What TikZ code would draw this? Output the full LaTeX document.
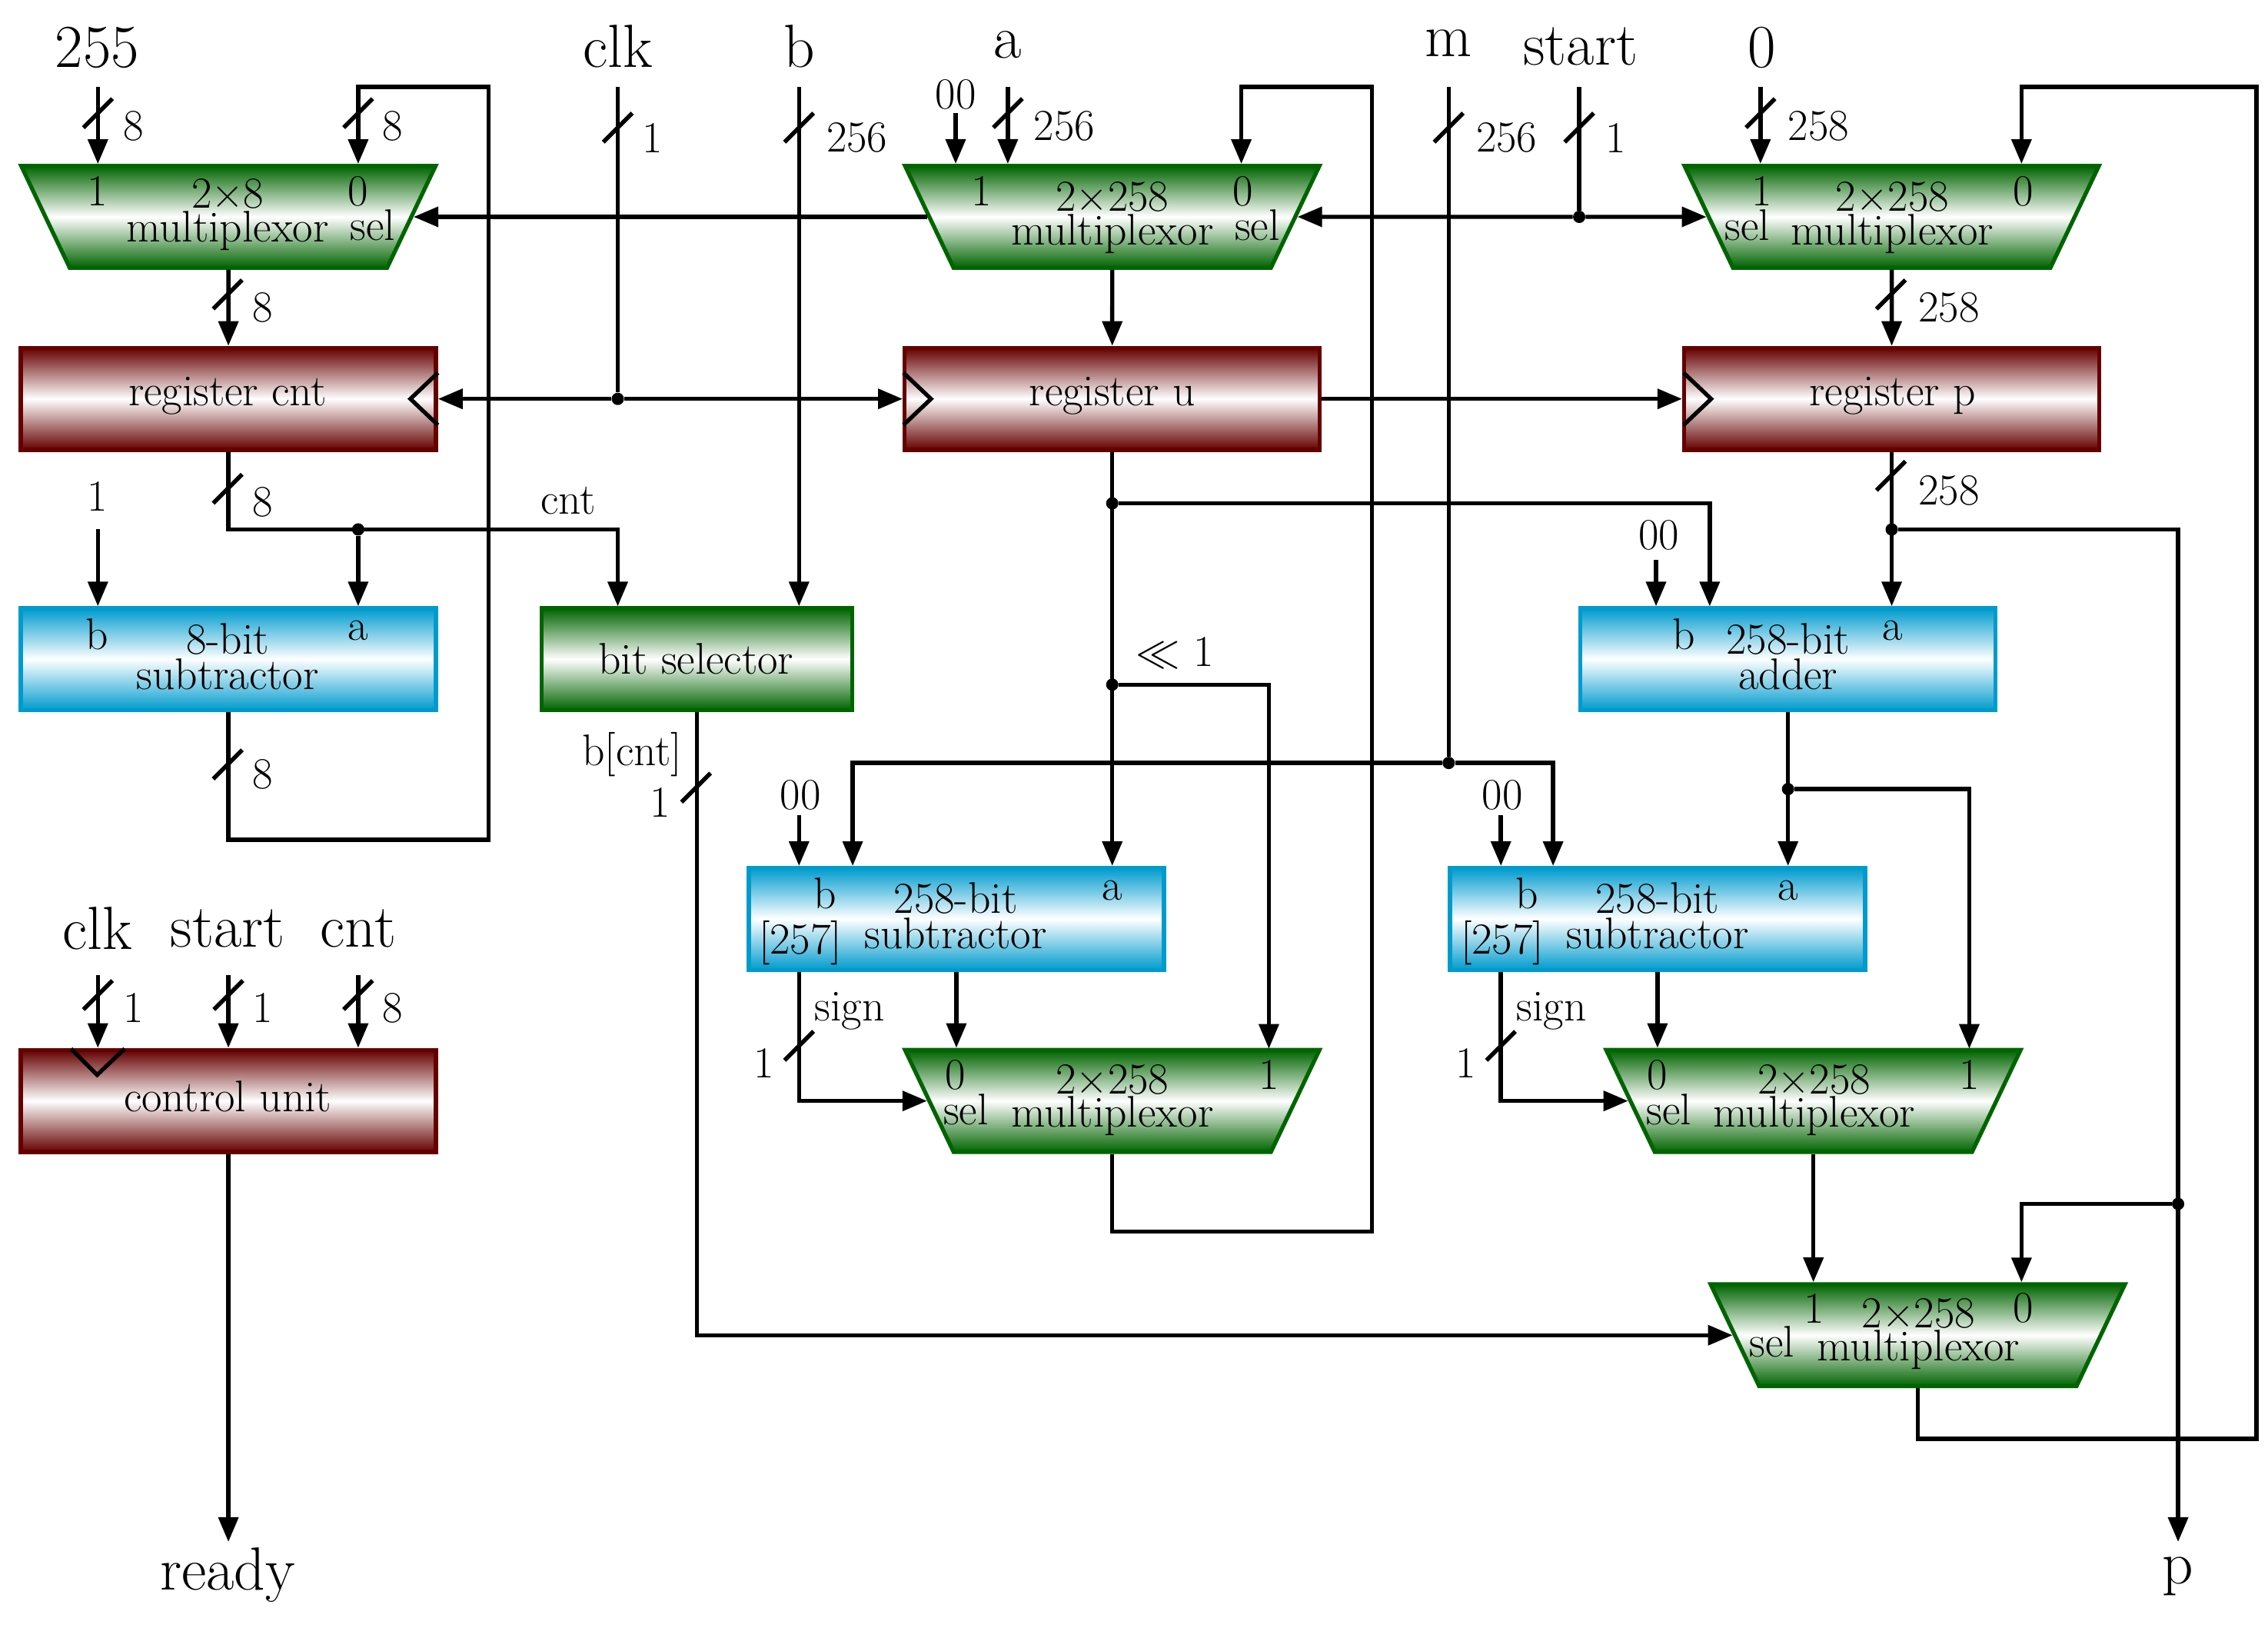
\documentclass[tikz,border=0pt]{standalone}
\usepackage{fix-cm}
\usetikzlibrary{arrows.meta,shapes.geometric}
\definecolor{gr}{RGB}{0,100,0}
\definecolor{rd}{RGB}{100,0,0}
\definecolor{bl}{RGB}{0,155,205}
\tikzset{
 base/.style={line width=2.8pt,minimum width=286.3pt,minimum height=70.3pt,inner sep=0pt},
 muxbox/.style={base,trapezium,trapezium stretches=true,trapezium left angle=63,trapezium right angle=63,shape border rotate=180,draw=gr,top color=gr,bottom color=gr,middle color=white},
 regbox/.style={base,rectangle,draw=rd,top color=rd,bottom color=rd,middle color=white},
 alubox/.style={base,rectangle,draw=bl,top color=bl,bottom color=bl,middle color=white},
 selbox/.style={base,rectangle,minimum width=214pt,draw=gr,top color=gr,bottom color=gr,middle color=white},
 txt/.style={inner sep=0pt,align=center,font=\fontsize{30.5}{24.5}\selectfont},
 muxtxt/.style={inner sep=0pt,align=center,font=\fontsize{30.5}{23}\selectfont},
 big/.style={inner sep=0pt,font=\fontsize{42}{44}\selectfont},
 wire/.style={line width=2.9pt,draw=black},
 arr/.style={wire,-{Triangle[length=17pt,width=13.5pt]}},
 dot/.style={circle,fill=black,inner sep=0pt,minimum size=8.5pt},
 clk/.style={line width=2.8pt,draw=black},
}
\newcommand{\busmark}[2]{\draw[wire] (#1-10,#2+10) -- (#1+10,#2-10);}
\newcommand{\nil}{\phantom{\rule{100pt}{30pt}}}
\begin{document}
\begin{tikzpicture}[x=1pt,y=-1pt]
\useasboundingbox (0,0) rectangle (1564,1122.3);
% boxes
\node[muxbox] (m1) at (157.5,149.5) {\nil};
\node[muxbox] (m2) at (767,149.5) {\nil};
\node[muxbox] (m3) at (1304.5,149.5) {\nil};
\node[regbox] (r1) at (157.5,275) {};
\node[regbox] (r2) at (767,275) {};
\node[regbox] (r3) at (1304.5,275) {};
\node[alubox] (s8) at (157.5,454.5) {};
\node[selbox] (bs) at (480.5,454.5) {};
\node[alubox] (ad) at (1233,454.5) {};
\node[alubox] (s1) at (659.5,633.5) {};
\node[alubox] (s2) at (1143,633.5) {};
\node[muxbox] (m4) at (767,759) {\nil};
\node[muxbox] (m5) at (1250.5,759) {\nil};
\node[regbox] (cu) at (157.5,759) {};
\node[muxbox] (m6) at (1322.5,920.5) {\nil};
% clock marks
\draw[clk] (302,257) -- (283,275) -- (302,293);
\draw[clk] (623,257) -- (642,275) -- (623,293);
\draw[clk] (1161,257) -- (1180,275) -- (1161,293);
\draw[clk] (49,723) -- (67,741) -- (86,723);
% texts in boxes
\node[muxtxt] (t1) at (157,148) {2×8\\multiplexor};
\node[txt] (t1a) at (67,132) {1};
\node[txt] (t1b) at (247,132) {0};
\node[txt] (t1c) at (257,155) {sel};
\node[muxtxt] (t2) at (767,150) {2×258\\multiplexor};
\node[txt] (t2a) at (677,132) {1};
\node[txt] (t2b) at (857,132) {0};
\node[txt] (t2c) at (867,155) {sel};
\node[muxtxt] (t3) at (1305,150) {2×258\\multiplexor};
\node[txt] (t3a) at (1215,132) {1};
\node[txt] (t3b) at (1395,132) {0};
\node[txt] (t3c) at (1205,155) {sel};
\node[txt] (tr1) at (157,273) {register cnt};
\node[txt] (tr2) at (767,273) {register u};
\node[txt] (tr3) at (1305,273) {register p};
\node[txt] (ts8) at (157,452.5) {8-bit\\subtractor};
\node[txt] (ts8a) at (67,437) {b};
\node[txt] (ts8b) at (247,435) {a};
\node[txt] (tbs) at (480,454) {bit selector};
\node[txt] (tad) at (1233,452.5) {258-bit\\adder};
\node[txt] (tada) at (1161,437) {b};
\node[txt] (tadb) at (1305,435) {a};
\node[txt] (ts1) at (659,631.5) {258-bit\\subtractor};
\node[txt] (ts1a) at (569,616) {b};
\node[txt] (ts1b) at (767,614) {a};
\node[txt] (ts1c) at (552,650) {[257]};
\node[txt] (ts2) at (1143,631.5) {258-bit\\subtractor};
\node[txt] (ts2a) at (1053,616) {b};
\node[txt] (ts2b) at (1233,614) {a};
\node[txt] (ts2c) at (1036,650) {[257]};
\node[muxtxt] (t4) at (767,758.5) {2×258\\multiplexor};
\node[txt] (t4a) at (659,741) {0};
\node[txt] (t4b) at (875,741) {1};
\node[txt] (t4c) at (666,765) {sel};
\node[muxtxt] (t5) at (1251,758.5) {2×258\\multiplexor};
\node[txt] (t5a) at (1143,741) {0};
\node[txt] (t5b) at (1358,741) {1};
\node[txt] (t5c) at (1151,765) {sel};
\node[muxtxt] (t6) at (1323,919.5) {2×258\\multiplexor};
\node[txt] (t6a) at (1251,902) {1};
\node[txt] (t6b) at (1395,902) {0};
\node[txt] (t6c) at (1222,925) {sel};
\node[txt] (tcu) at (157,756) {control unit};
% big labels
\node[big] (l255) at (67,33) {255};
\node[big] (lclk) at (426,32) {clk};
\node[big] (lb) at (551,32) {b};
\node[big] (la) at (695,31) {a};
\node[big] (lm) at (999,30) {m};
\node[big] (lst) at (1090,32) {start};
\node[big] (l0) at (1215,33) {0};
\node[big] (lclk2) at (67,640) {clk};
\node[big] (lst2) at (157,640) {start};
\node[big] (lcnt2) at (247,640) {cnt};
\node[big] (lrd) at (157,1086) {ready};
\node[big] (lp) at (1502,1087) {p};
% small labels
\node[txt] at (92,87) {8};
\node[txt] at (271,87) {8};
\node[txt] at (450,95) {1};
\node[txt] at (591,95) {256};
\node[txt] at (659,65) {00};
\node[txt] at (734,87) {256};
\node[txt] at (1039,95) {256};
\node[txt] at (1114,95) {1};
\node[txt] at (1254,87) {258};
\node[txt] at (181,212) {8};
\node[txt] at (1344,212) {258};
\node[txt] at (181,346) {8};
\node[txt] at (1344,338) {258};
\node[txt] at (67,342) {1};
\node[txt] at (392,345) {cnt};
\node[txt] at (1144,369) {00};
\node[txt] at (810,450) {$\ll$ 1};
\node[txt] at (181,534) {8};
\node[txt] at (436,520) {b[cnt]};
\node[txt] at (455,553) {1};
\node[txt] at (552,548) {00};
\node[txt] at (1036,548) {00};
\node[txt] at (586,697) {sign};
\node[txt] at (1070,697) {sign};
\node[txt] at (527,733) {1};
\node[txt] at (1011,733) {1};
\node[txt] at (92,695) {1};
\node[txt] at (181,695) {1};
\node[txt] at (271,695) {8};
% free ends, pins and junctions
\coordinate (f255) at (67.5,60);
\coordinate (p1a) at (67.5,113);
\coordinate (p1b) at (247,113);
\coordinate (t1r) at (337,60);
\coordinate (b1r) at (337,579);
\coordinate (fclk) at (426,60);
\coordinate (fb) at (551,60);
\coordinate (f00a) at (659,78);
\coordinate (fa) at (695,60);
\coordinate (p2b) at (856,113);
\coordinate (t2r) at (946,60);
\coordinate (fm) at (999,60);
\coordinate (fst) at (1089,60);
\coordinate (f0) at (1214,60);
\coordinate (p3b) at (1394,113);
\coordinate (t3r) at (1556,60);
\coordinate (frd) at (157.5,1063);
\coordinate (fp) at (1502,1063);
\node[dot] (jst) at (1089,149.5) {};
\node[dot] (jclk) at (426,275) {};
\node[dot] (jcnt) at (247,365) {};
\node[dot] (ju1) at (767,347) {};
\node[dot] (ju2) at (767,472) {};
\node[dot] (jm) at (999,526) {};
\node[dot] (jp) at (1304.5,365) {};
\node[dot] (jp2) at (1502,830) {};
\node[dot] (jad) at (1233,544) {};
% top row
\draw[arr] (f255) -- (p1a);
\draw[arr] (s8.south) |- (b1r) -- (t1r) -| (p1b);
\draw[arr] (m2.west) -- (m1.east);
\draw[arr] (jst) -- (m2.east);
\draw[arr] (jst) -- (m3.west);
\draw[wire] (fst) -- (jst);
\draw[wire] (fclk) -- (jclk);
\draw[arr] (jclk) -- (r1.east);
\draw[arr] (jclk) -- (r2.west);
\draw[arr] (fb) -- (fb |- bs.north);
\draw[arr] (f00a) -- (f00a |- m2.north);
\draw[arr] (fa) -- (fa |- m2.north);
\draw[arr] (m4.south) |- (946,849) -- (t2r) -| (p2b);
\draw[wire] (fm) -- (jm);
\draw[arr] (jm) -| (588,597);
\draw[arr] (jm) -| (1071,597);
\draw[arr] (f0) -- (f0 |- m3.north);
\draw[arr] (m6.south) |- (1556,992) -- (t3r) -| (p3b);
\draw[arr] (m1.south) -- (r1.north);
\draw[arr] (m2.south) -- (r2.north);
\draw[arr] (m3.south) -- (r3.north);
\draw[arr] (r2.east) -- (r3.west);
% register outputs
\draw[arr] (r1.south) |- (426,365) -- (426,418);
\draw[arr] (jcnt) -- (jcnt |- s8.north);
\coordinate (f1) at (67.5,365);
\draw[arr] (f1) -- (f1 |- s8.north);
\draw[arr] (r2.south) -- (r2.south |- s1.north);
\draw[arr] (ju1) -| (1179,418);
\draw[arr] (ju2) -| (875,723);
\draw[arr] (r3.south) -- (r3.south |- ad.north);
\draw[arr] (jp) -| (fp);
\draw[arr] (jp2) -| (1394,884);
\coordinate (f00b) at (1142,386);
\draw[arr] (f00b) -- (f00b |- ad.north);
\draw[arr] (ad.south) -- (ad.south |- s2.north);
\draw[arr] (jad) -| (1358,723);
% subtractors
\coordinate (f00c) at (551,562);
\coordinate (f00d) at (1035,562);
\draw[arr] (f00c) -- (f00c |- s1.north);
\draw[arr] (f00d) -- (f00d |- s2.north);
\draw[arr] (s1.south) -- (s1.south |- m4.north);
\draw[arr] (s2.south) -- (s2.south |- m5.north);
\draw[arr] (f00c |- s1.south) |- (m4.west);
\draw[arr] (f00d |- s2.south) |- (m5.west);
\draw[arr] (m5.south) -- (m5.south |- m6.north);
\draw[arr] (bs.south) |- (m6.west);
% control unit
\coordinate (fc1) at (67.5,672);
\coordinate (fc2) at (157.5,672);
\coordinate (fc3) at (247,672);
\draw[arr] (fc1) -- (fc1 |- cu.north);
\draw[arr] (fc2) -- (fc2 |- cu.north);
\draw[arr] (fc3) -- (fc3 |- cu.north);
\draw[arr] (cu.south) -- (frd);
% bus marks
\busmark{67.5}{78}
\busmark{247}{78}
\busmark{426}{88}
\busmark{551}{88}
\busmark{695}{78}
\busmark{999}{88}
\busmark{1089}{88}
\busmark{1214}{78}
\busmark{157}{203}
\busmark{1304}{203}
\busmark{157}{337}
\busmark{1304}{328}
\busmark{157}{527}
\busmark{480}{543}
\busmark{551}{721}
\busmark{1035}{721}
\busmark{67.5}{686}
\busmark{157.5}{686}
\busmark{247}{686}
\end{tikzpicture}
\end{document}
